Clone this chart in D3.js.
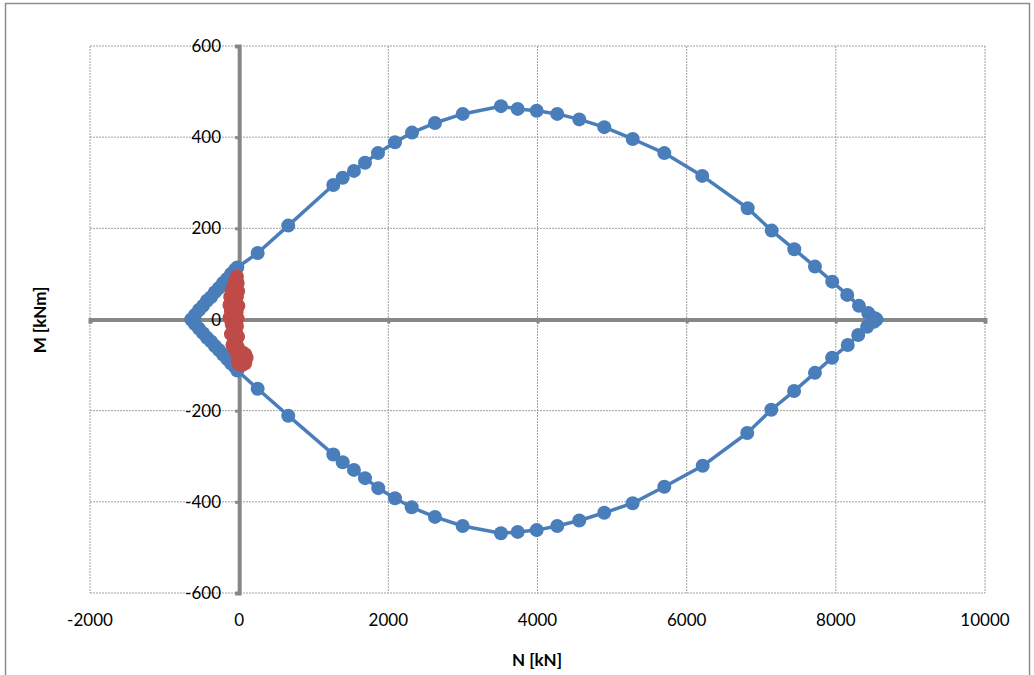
<!DOCTYPE html>
<html>
<head>
<meta charset="utf-8">
<script src="https://cdn.jsdelivr.net/npm/d3@7"></script>
<style>
  html, body { margin: 0; padding: 0; background: #fff; }
  svg { display: block; }
  text { font-family: Lato, "Open Sans", "Liberation Sans", sans-serif; fill: #000; }
</style>
</head>
<body>
<svg id="chart" width="1034" height="675"></svg>
<script>
// ---- data ----
const xTicks = [-2000, 0, 2000, 4000, 6000, 8000, 10000];
const yTicks = [-600, -400, -200, 0, 200, 400, 600];
const xTitle = "N [kN]";
const yTitle = "M [kNm]";

// Interaction diagram (blue): N values and M values, in drawing order
const capacityN = [
  -640, -593, -539, -485, -432, -378, -325, -271, -217, -164, -110, -56, -25,
  248, 658, 1262, 1388, 1539, 1687, 1861, 2089, 2317, 2625, 2997, 3510, 3734,
  3989, 4265, 4560, 4895, 5276, 5700, 6209, 6818, 7140, 7443, 7720, 7952, 8153,
  8310, 8435, 8525, 8545,
  8510, 8420, 8300, 8160, 7950, 7720, 7440, 7135, 6812, 6215, 5700, 5276, 4895,
  4560, 4265, 3989, 3734, 3510, 2997, 2625, 2313, 2089, 1865, 1687, 1539, 1388,
  1262, 658, 248,
  -25, -56, -110, -164, -217, -271, -325, -378, -432, -485, -539, -593, -640
];
const capacityM = [
  0, 10, 21, 30, 41, 49, 60, 69, 80, 89, 100, 109, 114,
  146, 206, 295, 311, 326, 344, 365, 389, 410, 431, 451, 468, 462,
  458, 451, 439, 422, 396, 365, 315, 244, 195, 154, 116, 83, 54,
  30, 14, 3, 0,
  -5, -16, -34, -56, -84, -117, -157, -198, -249, -321, -367, -403, -424,
  -441, -453, -462, -466, -469, -453, -433, -412, -392, -370, -348, -330, -313,
  -296, -211, -152,
  -112, -104, -96, -86, -77, -67, -58, -48, -40, -30, -20, -10, 0
];

// Load combinations (red)
const loadN = [
  -30, -50, -20, -70, -40, -100, -15, -60, -120, -30, -90, -50, -130, -10, -70,
  -110, -35, -80, -130, -20, -60, -100, -30, -80, -40, -110, -15, -70, -40, -90,
  -20, -60, -30, 0, 40, 80, 100, 60, 20, -20, 80, 40, 0
];
const loadM = [
  94, 86, 80, 74, 70, 64, 62, 56, 50, 50, 42, 38, 32, 30, 26,
  18, 16, 8, 4, 2, -4, -10, -14, -22, -30, -32, -38, -42, -52, -56,
  -60, -66, -74, -80, -72, -76, -84, -88, -92, -90, -96, -100, -98
];

// ---- layout ----
const svg = d3.select("#chart");
const x = d3.scaleLinear().domain([-2000, 10000]).range([90, 985]);
const y = d3.scaleLinear().domain([-600, 600]).range([593, 46]);

// outer chart border
svg.append("rect")
  .attr("x", 5.5).attr("y", 3.5).attr("width", 1024).attr("height", 690)
  .attr("fill", "none").attr("stroke", "#8c8c8c").attr("stroke-width", 1.5);

// gridlines
const grid = svg.append("g");
grid.selectAll("line.v").data(xTicks).join("line")
  .attr("x1", d => x(d)).attr("x2", d => x(d))
  .attr("y1", y(600)).attr("y2", y(-600))
  .attr("stroke", "#a0a0a0").attr("stroke-width", 1).attr("stroke-dasharray", "2,1");
grid.selectAll("line.h").data(yTicks).join("line")
  .attr("y1", d => y(d)).attr("y2", d => y(d))
  .attr("x1", x(-2000)).attr("x2", x(10000))
  .attr("stroke", "#a0a0a0").attr("stroke-width", 1).attr("stroke-dasharray", "2,1");

// zero axes (thick gray) with tick marks via d3 axes
const axisColor = "#878787";
const yAxis = svg.append("g").attr("transform", `translate(${x(0)},0)`)
  .call(d3.axisLeft(y).tickValues(yTicks).tickSize(4).tickFormat(""));
const xAxis = svg.append("g").attr("transform", `translate(0,${y(0)})`)
  .call(d3.axisBottom(x).tickValues(xTicks).tickSize(4).tickFormat(""));
[xAxis, yAxis].forEach(g => {
  g.select(".domain").attr("stroke", axisColor).attr("stroke-width", 4);
  g.selectAll(".tick line").attr("stroke", axisColor).attr("stroke-width", 3);
});

// tick labels
svg.append("g").selectAll("text").data(yTicks).join("text")
  .attr("x", 221).attr("y", d => y(d)).attr("dy", "0.36em")
  .attr("text-anchor", "end").attr("font-size", 17)
  .text(d => d);
svg.append("g").selectAll("text").data(xTicks).join("text")
  .attr("x", d => x(d)).attr("y", 620).attr("dy", "0.36em")
  .attr("text-anchor", "middle").attr("font-size", 17)
  .text(d => d);

// axis titles
svg.append("text").attr("x", 537).attr("y", 660).attr("dy", "0.36em")
  .attr("text-anchor", "middle").attr("font-size", 17).attr("font-weight", "bold")
  .text(xTitle);
svg.append("text").attr("transform", "translate(40,320) rotate(-90)").attr("dy", "0.36em")
  .attr("text-anchor", "middle").attr("font-size", 17).attr("font-weight", "bold")
  .text(yTitle);

// blue series
const blue = "#4a7ebb";
const capPts = capacityN.map((n, i) => [n, capacityM[i]]);
svg.append("path").datum(capPts)
  .attr("d", d3.line().x(d => x(d[0])).y(d => y(d[1])))
  .attr("fill", "none").attr("stroke", blue).attr("stroke-width", 3.5)
  .attr("stroke-linejoin", "round");
svg.append("g").selectAll("circle").data(capPts).join("circle")
  .attr("cx", d => x(d[0])).attr("cy", d => y(d[1])).attr("r", 7)
  .attr("fill", blue);

// red series
const red = "#be4b48";
const loadPts = loadN.map((n, i) => [n, loadM[i]]);
svg.append("g").selectAll("circle").data(loadPts).join("circle")
  .attr("cx", d => x(d[0])).attr("cy", d => y(d[1])).attr("r", 7)
  .attr("fill", red);
</script>
</body>
</html>
